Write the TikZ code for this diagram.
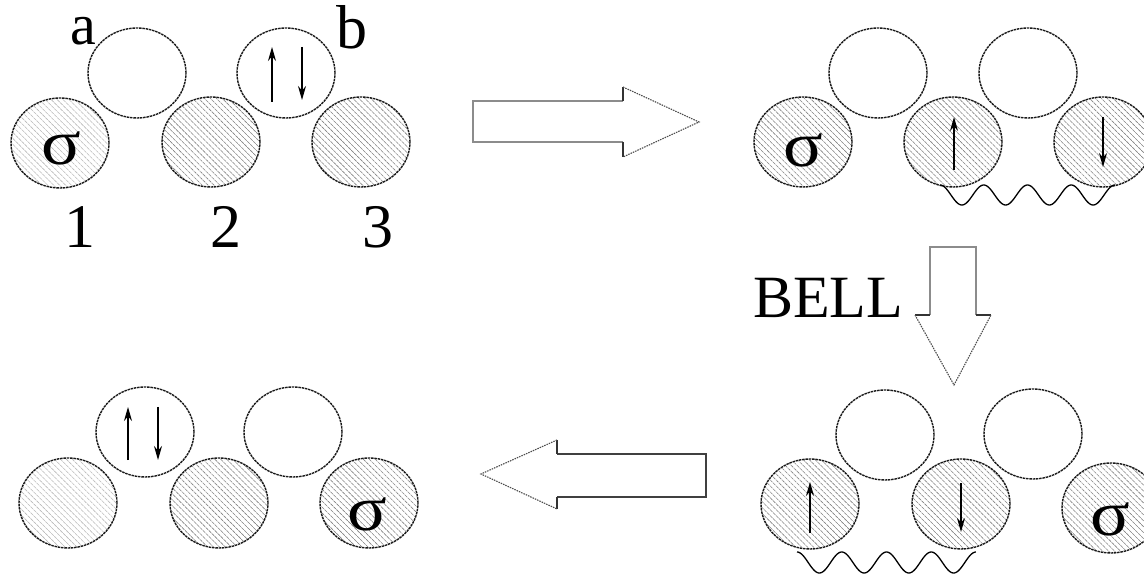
\documentclass[tikz,border=0pt]{standalone}
\usepackage{fontspec}
\setmainfont{Liberation Serif}
\usetikzlibrary{shapes.geometric,patterns.meta,arrows.meta,calc}
\begin{document}
\begin{tikzpicture}[x=1pt,y=-1pt,
 orb/.style={ellipse, draw=black!90, line width=1.4pt, dash pattern=on 2.5pt off 0.8pt, minimum width=98pt, minimum height=90pt, inner sep=0pt},
 hatch/.style={orb, pattern={Lines[angle=-45,distance=4.2pt,line width=0.6pt]}, pattern color=black!50},
 lighthatch/.style={orb, pattern={Lines[angle=-45,distance=4.2pt,line width=0.6pt]}, pattern color=black!28},
 spin/.style={line width=1.3pt, -{Stealth[length=14pt,width=8pt]}},
 lbl/.style={font=\fontsize{62}{62}\selectfont, inner sep=0pt},
 sig/.style={font=\fontsize{64}{64}\selectfont, inner sep=0pt, xscale=1.15, transform shape},
 shaft/.style={draw=black!45, line width=1.3pt},
 darkshaft/.style={draw=black!75, line width=1.3pt},
 head/.style={draw=black!70, line width=1.1pt, dash pattern=on 1.5pt off 1pt},
 back/.style={draw=black!80, line width=1.3pt},
 wave/.style={line width=1.3pt}
]
\useasboundingbox (0,0) rectangle (1144,577);

% ---------- top-left panel
\node[lighthatch] (tl1) at (60,143) {};
\node[orb]   (tla) at (137,73) {};
\node[hatch] (tl2) at (211,142) {};
\node[orb]   (tlb) at (286,73) {};
\node[hatch] (tl3) at (361,142) {};
\node[sig] (tls) at (61,148) {σ};
\node[lbl, font=\fontsize{58}{58}\selectfont, anchor=base] (la) at (83,45) {a};
\node[lbl] (lb) at (352,27) {b};
\node[lbl] (l1) at (80,227) {1};
\node[lbl] (l2) at (226,227) {2};
\node[lbl] (l3) at (378,227) {3};
\draw[spin] ($(tlb.center)+(-14,29)$) -- ($(tlb.center)+(-14,-26)$);
\draw[spin] ($(tlb.center)+(16,-26)$) -- ($(tlb.center)+(16,27)$);

% ---------- right arrow
\coordinate (ra1) at (623,101); \coordinate (ra2) at (473,101);
\coordinate (ra3) at (473,142); \coordinate (ra4) at (623,142);
\coordinate (rh1) at (623,87); \coordinate (rtip) at (699,122); \coordinate (rh2) at (623,157);
\draw[shaft] (ra1) -- (ra2) -- (ra3) -- (ra4);
\draw[back] (rh1) -- (ra1) (ra4) -- (rh2);
\draw[head] (rh1) -- (rtip) -- (rh2);

% ---------- top-right panel
\node[hatch] (tr1) at (803,142) {};
\node[orb]   (tra) at (878,73) {};
\node[hatch] (tr2) at (953,142) {};
\node[orb]   (trb) at (1028,73) {};
\node[hatch] (tr3) at (1103,142) {};
\node[sig] (trs) at (803,150) {σ};
\draw[spin] ($(tr2.center)+(1,28)$) -- ($(tr2.center)+(1,-25)$);
\draw[spin] ($(tr3.center)+(0,-25)$) -- ($(tr3.center)+(0,25)$);
\draw[wave] plot[domain=0:4,samples=160,smooth] ({940+43.75*\x},{195-10*cos(360*\x)});

% ---------- down arrow
\coordinate (da1) at (930,315); \coordinate (da2) at (930,247);
\coordinate (da3) at (976,247); \coordinate (da4) at (976,315);
\coordinate (dh1) at (915,315); \coordinate (dtip) at (954,385); \coordinate (dh2) at (991,315);
\draw[shaft] (da1) -- (da2) -- (da3) -- (da4);
\draw[back] (dh1) -- (da1) (da4) -- (dh2);
\draw[head] (dh1) -- (dtip) -- (dh2);
\node[font=\fontsize{60}{60}\selectfont, inner sep=0pt] (bell) at (828,298) {BELL};

% ---------- bottom-right panel
\node[hatch] (br1) at (810,504) {};
\node[orb]   (bra) at (885,435) {};
\node[hatch] (br2) at (961,504) {};
\node[orb]   (brb) at (1033,434) {};
\node[hatch] (br3) at (1111,508) {};
\node[sig] (brs) at (1110,519) {σ};
\draw[spin] ($(br1.center)+(0,29)$) -- ($(br1.center)+(0,-22)$);
\draw[spin] ($(br2.center)+(0,-21)$) -- ($(br2.center)+(0,28)$);
\draw[wave] plot[domain=0:4,samples=160,smooth] ({797+44.75*\x},{562.5-10.5*cos(360*\x)});

% ---------- left arrow
\coordinate (la1) at (557,454); \coordinate (la2) at (706,454);
\coordinate (la3) at (706,497); \coordinate (la4) at (557,497);
\coordinate (lh1) at (557,440); \coordinate (ltip) at (481,474); \coordinate (lh2) at (557,509);
\draw[darkshaft] (la1) -- (la2) -- (la3) -- (la4);
\draw[back] (lh1) -- (la1) (la4) -- (lh2);
\draw[head] (lh1) -- (ltip) -- (lh2);

% ---------- bottom-left panel
\node[lighthatch] (bl1) at (68,503) {};
\node[orb]   (bla) at (145,432) {};
\node[hatch] (bl2) at (219,503) {};
\node[orb]   (blb) at (293,432) {};
\node[hatch] (bl3) at (369,503) {};
\node[sig] (bls) at (367,514) {σ};
\draw[spin] ($(bla.center)+(-17,28)$) -- ($(bla.center)+(-17,-25)$);
\draw[spin] ($(bla.center)+(13,-25)$) -- ($(bla.center)+(13,28)$);
\end{tikzpicture}
\end{document}
